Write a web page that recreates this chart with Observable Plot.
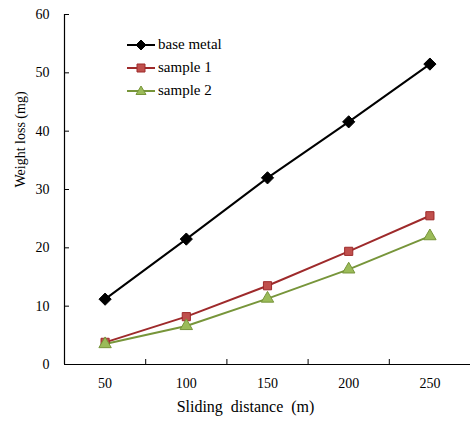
<!DOCTYPE html>
<html><head><meta charset="utf-8">
<script src="https://cdn.jsdelivr.net/npm/d3@7"></script>
<script src="https://cdn.jsdelivr.net/npm/@observablehq/plot@0.6"></script>
<style>
body{margin:0;background:#fff;}
#wrap{position:relative;width:470px;height:421px;font-family:"Liberation Serif","Times New Roman",serif;}
#legend{position:absolute;left:127px;top:33px;font-size:15px;line-height:23px;color:#000;}
#legend div{display:flex;align-items:center;height:23px;}
#legend svg{margin-right:1px;}
</style></head>
<body><div id="wrap"><div id="legend"></div></div>
<script>
const distances = [50, 100, 150, 200, 250];
const baseMetal = [11.2, 21.5, 32.0, 41.6, 51.5];
const sample1 = [3.8, 8.2, 13.5, 19.4, 25.5];
const sample2 = [3.5, 6.6, 11.3, 16.3, 22.0];
const seriesNames = ["base metal", "sample 1", "sample 2"];
const lineColors = ["#000000", "#9E2A2B", "#77953A"];
const fillColors = ["#000000", "#C0504D", "#9BBB59"];
const symbols = ["diamond2", "square", "triangle"];
const yTicks = [0, 10, 20, 30, 40, 50, 60];
const xDividers = [75, 125, 175, 225];

const seriesValues = [baseMetal, sample1, sample2];
const data = seriesNames.flatMap((s, i) => distances.map((d, j) => ({series: s, x: d, y: seriesValues[i][j], i})));

const chart = Plot.plot({
  width: 470, height: 421,
  marginLeft: 64, marginRight: 0, marginTop: 14, marginBottom: 57,
  style: {fontFamily: '"Liberation Serif","Times New Roman",serif', fontSize: "14px", color: "#000", background: "transparent"},
  x: {domain: [25, 275]},
  y: {domain: [0, 60]},
  marks: [
    Plot.axisY({ticks: yTicks, tickSize: 0, tickPadding: 15, label: null}),
    Plot.axisY({ticks: yTicks, tickSize: -5, text: null, label: null}),
    Plot.axisX({ticks: distances, tickSize: 0, tickPadding: 14, label: null}),
    Plot.axisX({ticks: xDividers, tickSize: -5, text: null, label: null}),
    Plot.ruleX([25], {stroke: "#000", strokeWidth: 1.2}),
    Plot.ruleY([0], {stroke: "#000", strokeWidth: 1.2}),
    ...seriesNames.map((s, i) => Plot.line(data.filter(d => d.series === s), {x: "x", y: "y", stroke: lineColors[i], strokeWidth: 2})),
    ...seriesNames.map((s, i) => Plot.dot(data.filter(d => d.series === s), {x: "x", y: "y", symbol: symbols[i], r: i === 0 ? 5.5 : 4.6, fill: fillColors[i], stroke: lineColors[i], strokeWidth: 1})),
    Plot.text(["Sliding  distance  (m)"], {frameAnchor: "bottom", dx: -22, dy: 47, fontSize: 16}),
    Plot.text(["Weight loss (mg)"], {frameAnchor: "left", dx: -44, dy: -2, rotate: -90, fontSize: 14})
  ]
});
chart.querySelectorAll("text").forEach(t => t.setAttribute("xml:space", "preserve"));
document.getElementById("wrap").prepend(chart);

const legend = document.getElementById("legend");
const symPath = {diamond2: "M0,-5L5,0L0,5L-5,0Z", square: "M-4,-4H4V4H-4Z", triangle: "M0,-5L5,3.5H-5Z"};
seriesNames.forEach((s, i) => {
  const row = document.createElement("div");
  row.innerHTML = `<svg width="30" height="12"><line x1="0" x2="28" y1="6" y2="6" stroke="${lineColors[i]}" stroke-width="2"/><path transform="translate(14,6)" d="${symPath[symbols[i]]}" fill="${fillColors[i]}" stroke="${lineColors[i]}"/></svg><span>${s}</span>`;
  legend.appendChild(row);
});
</script></body></html>
